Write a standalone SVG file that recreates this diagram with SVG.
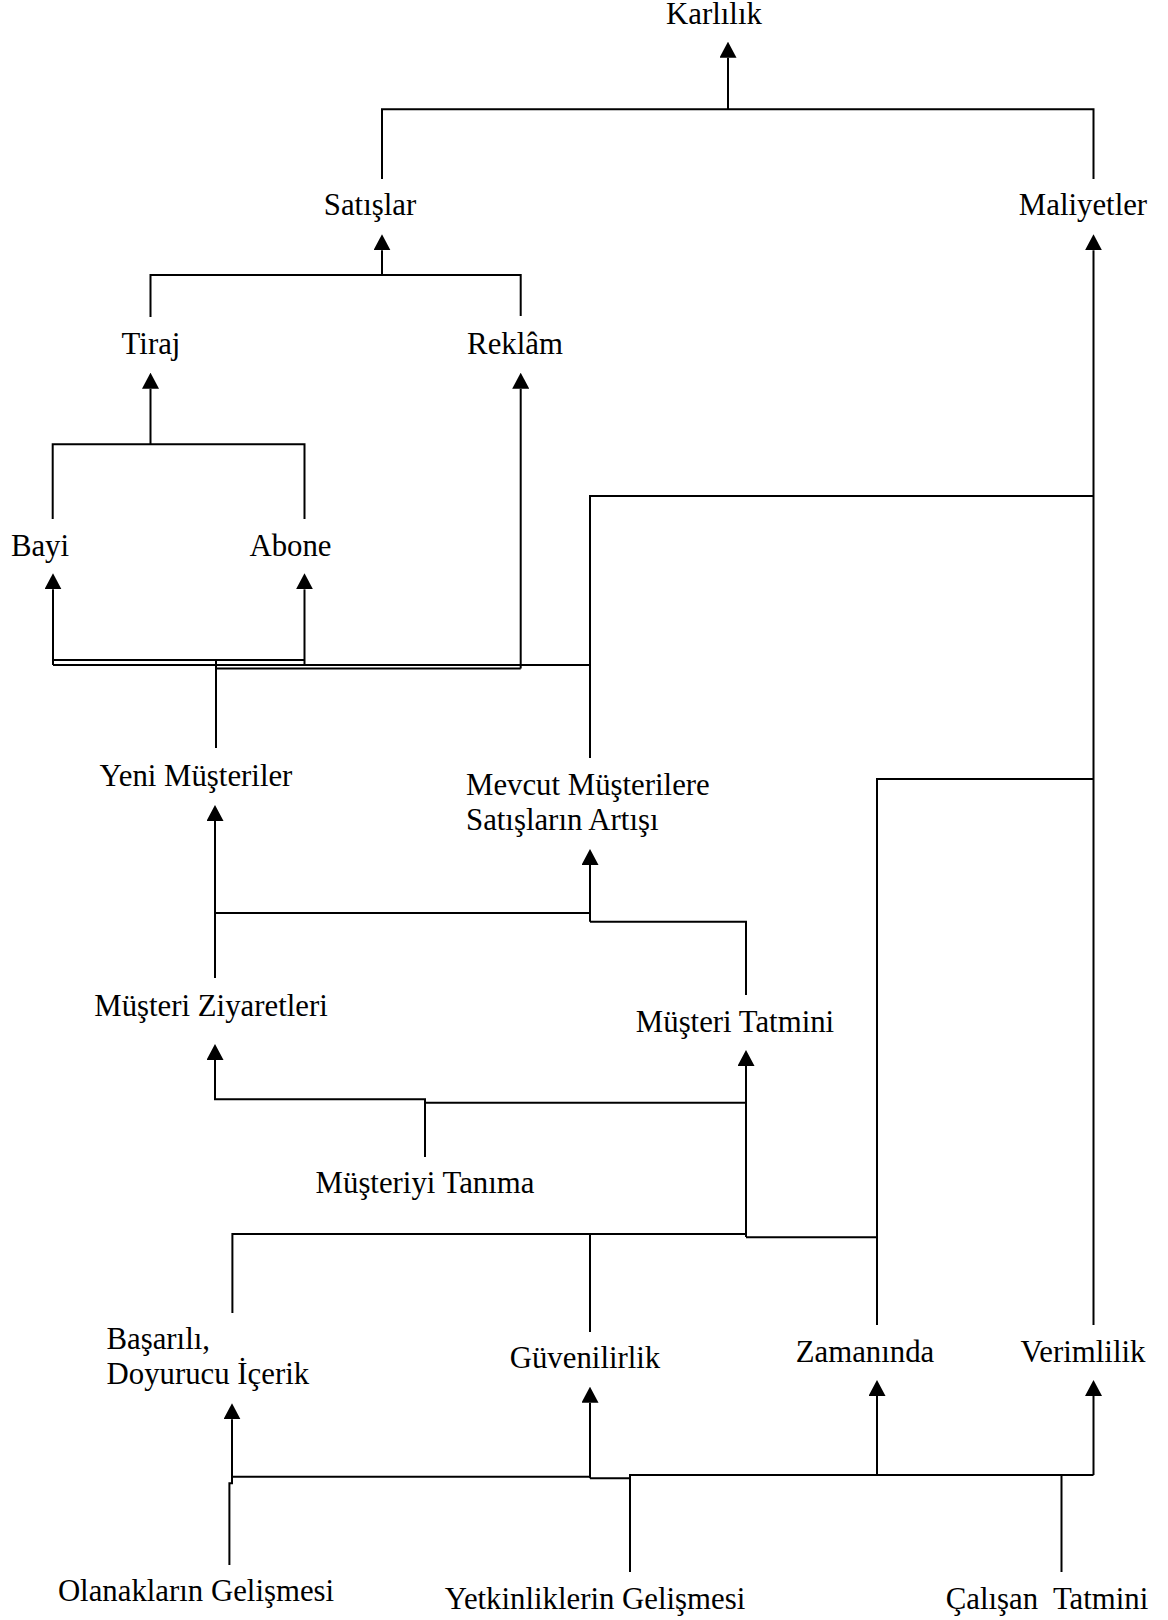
<svg xmlns="http://www.w3.org/2000/svg" width="1168" height="1620" viewBox="0 0 1168 1620">
  <style>
    .lbl { font-family: "Liberation Serif", "Times New Roman", serif; font-size: 30.8px; fill: #000; }
    .c { text-anchor: middle; }
    .ln { fill: none; stroke: #000; stroke-width: 2; stroke-linejoin: miter; }
    .ar { marker-end: url(#head); }
  </style>
  <defs>
    <marker id="head" markerUnits="userSpaceOnUse" viewBox="0 -8.5 16 17" refX="0" refY="0" markerWidth="16" markerHeight="17" orient="auto">
      <path d="M0,-8.5 L16,0 L0,8.5 z" fill="#000"/>
    </marker>
  </defs>
  <rect width="1168" height="1620" fill="#fff"/>

  <!-- connectors -->
  <g id="connectors">
    <!-- Satışlar + Maliyetler -> Karlılık -->
    <path class="ln" d="M382,179 V109.3 H1093.5 V179"/>
    <path class="ln ar" d="M728,109.3 V57.7"/>
    <!-- Tiraj + Reklâm -> Satışlar -->
    <path class="ln" d="M150.5,317 V275 H520.7 V316"/>
    <path class="ln ar" d="M382,275 V250.3"/>
    <!-- Bayi + Abone -> Tiraj -->
    <path class="ln" d="M52.7,519 V444.3 H304.5 V519"/>
    <path class="ln ar" d="M150.5,444.3 V388.7"/>
    <!-- arrows into Bayi, Abone, Reklâm -->
    <path class="ln ar" d="M53,665 V589.3"/>
    <path class="ln ar" d="M304.5,665 V589.3"/>
    <path class="ln ar" d="M520.7,668.5 V388.7"/>
    <!-- Yeni Müşteriler branch -->
    <path class="ln" d="M216,748 V660"/>
    <path class="ln" d="M53,660 H304.5"/>
    <path class="ln" d="M216,668.5 H520.7"/>
    <!-- Mevcut Müşterilere branch -->
    <path class="ln" d="M590,758 V665 H53"/>
    <path class="ln" d="M590,665 V496 H1093.5"/>
    <!-- Maliyetler trunk (from Verimlilik) -->
    <path class="ln ar" d="M1093.5,1325 V250.3"/>
    <!-- Zamanında -> Maliyetler -->
    <path class="ln" d="M877,1325 V779 H1093.5"/>
    <!-- Müşteri Ziyaretleri / Müşteri Tatmini -> Yeni, Mevcut -->
    <path class="ln ar" d="M215,978 V821"/>
    <path class="ln" d="M215,913 H590"/>
    <path class="ln ar" d="M590,921.7 V865"/>
    <path class="ln" d="M746,995 V921.7 H590"/>
    <!-- Müşteriyi Tanıma -> Ziyaretleri, Tatmini -->
    <path class="ln ar" d="M425,1157 V1099.3 H215 V1060"/>
    <path class="ln" d="M425,1102.7 H746"/>
    <!-- into Müşteri Tatmini -->
    <path class="ln ar" d="M746,1237 V1066"/>
    <path class="ln" d="M232.4,1313 V1234 H746"/>
    <path class="ln" d="M590,1332 V1234"/>
    <path class="ln" d="M877,1237.3 H746"/>
    <!-- bottom tier -->
    <path class="ln ar" d="M229.4,1565 V1483.3 H232 V1419.3"/>
    <path class="ln" d="M232,1476.7 H590"/>
    <path class="ln ar" d="M590,1478.3 V1402.7"/>
    <path class="ln" d="M590,1478.3 H630"/>
    <path class="ln" d="M630,1572 V1475 H1093.5"/>
    <path class="ln ar" d="M877,1475 V1396"/>
    <path class="ln ar" d="M1093.5,1475 V1396"/>
    <path class="ln" d="M1061.5,1572 V1475"/>
  </g>

  <!-- nodes -->
  <g id="karlilik"><text class="lbl c" x="714" y="24">Karlılık</text></g>
  <g id="satislar"><text class="lbl c" x="370" y="215">Satışlar</text></g>
  <g id="maliyetler"><text class="lbl c" x="1083" y="215">Maliyetler</text></g>
  <g id="tiraj"><text class="lbl c" x="151" y="354">Tiraj</text></g>
  <g id="reklam"><text class="lbl c" x="515" y="354">Reklâm</text></g>
  <g id="bayi"><text class="lbl c" x="40" y="556">Bayi</text></g>
  <g id="abone"><text class="lbl c" x="290.5" y="556">Abone</text></g>
  <g id="yeni-musteriler"><text class="lbl c" x="196" y="786">Yeni Müşteriler</text></g>
  <g id="mevcut-musteriler">
    <text class="lbl" x="466" y="795">Mevcut Müşterilere</text>
    <text class="lbl" x="466" y="830">Satışların Artışı</text>
  </g>
  <g id="musteri-ziyaretleri"><text class="lbl c" x="211" y="1016">Müşteri Ziyaretleri</text></g>
  <g id="musteri-tatmini"><text class="lbl c" x="735" y="1032">Müşteri Tatmini</text></g>
  <g id="musteriyi-tanima"><text class="lbl c" x="425" y="1193">Müşteriyi Tanıma</text></g>
  <g id="basarili-icerik">
    <text class="lbl" x="106.5" y="1349">Başarılı,</text>
    <text class="lbl" x="106.5" y="1384">Doyurucu İçerik</text>
  </g>
  <g id="guvenilirlik"><text class="lbl c" x="585" y="1368">Güvenilirlik</text></g>
  <g id="zamaninda"><text class="lbl c" x="865" y="1362">Zamanında</text></g>
  <g id="verimlilik"><text class="lbl c" x="1083" y="1362">Verimlilik</text></g>
  <g id="olanaklarin-gelismesi"><text class="lbl c" x="196" y="1601">Olanakların Gelişmesi</text></g>
  <g id="yetkinliklerin-gelismesi"><text class="lbl c" x="595" y="1609">Yetkinliklerin Gelişmesi</text></g>
  <g id="calisan-tatmini"><text class="lbl c" x="1047" y="1609" xml:space="preserve">Çalışan  Tatmini</text></g>
</svg>
